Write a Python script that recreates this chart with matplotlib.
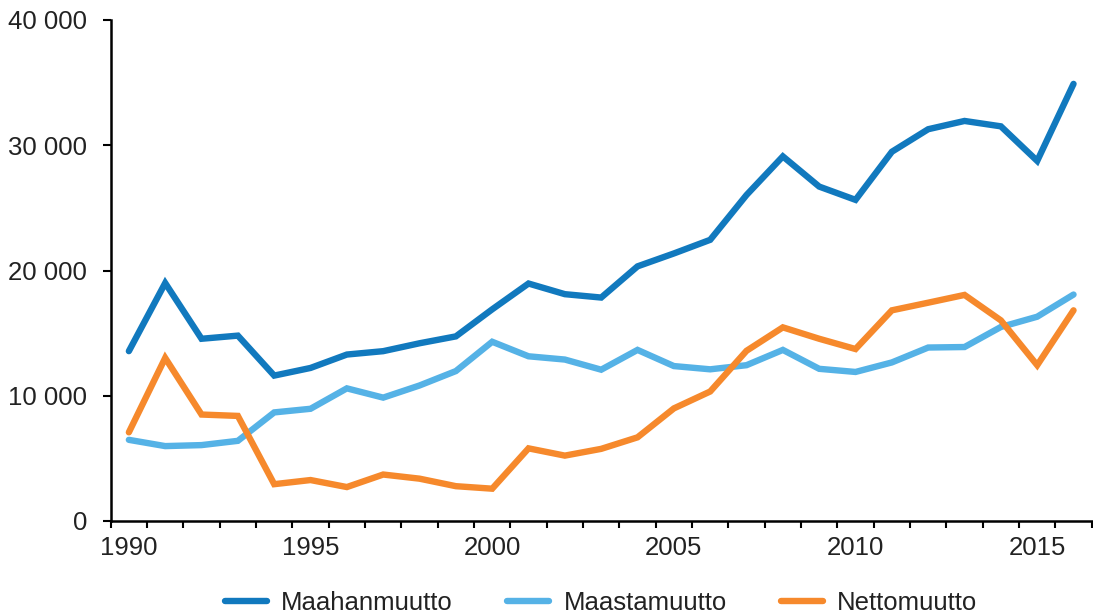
import matplotlib
matplotlib.use("Agg")
import matplotlib.pyplot as plt
import numpy as np
from matplotlib.ticker import FuncFormatter, FixedLocator

plt.rcParams['font.family'] = ['Liberation Sans', 'DejaVu Sans']

years = list(range(1990, 2017))
maahanmuutto = [13560, 19000, 14550, 14800, 11610, 12220, 13290, 13560, 14190, 14740,
                16900, 18960, 18110, 17840, 20330, 21360, 22450, 26030, 29110, 26700,
                25640, 29480, 31280, 31940, 31510, 28750, 34900]
maastamuutto = [6480, 5980, 6060, 6400, 8670, 8960, 10590, 9850, 10820, 11970,
                14310, 13150, 12890, 12080, 13660, 12370, 12110, 12440, 13660, 12150,
                11900, 12660, 13850, 13890, 15490, 16310, 18080]
nettomuutto = [7080, 13020, 8500, 8390, 2940, 3270, 2710, 3710, 3380, 2780,
               2580, 5800, 5220, 5760, 6680, 8990, 10340, 13590, 15460, 14550,
               13730, 16820, 17430, 18050, 16020, 12440, 16820]
series_names = ["Maahanmuutto", "Maastamuutto", "Nettomuutto"]
colors = ["#1179BE", "#55B2E6", "#F6892C"]
label_years = [1990, 1995, 2000, 2005, 2010, 2015]

W, H = 1093, 616
fig = plt.figure(figsize=(W / 100, H / 100), dpi=100)
ax = fig.add_axes([110.7 / W, 1 - 521 / H, (1091.7 - 110.7) / W, (521 - 20) / H])

x = np.arange(len(years))
for vals, name, c in zip([maahanmuutto, maastamuutto, nettomuutto], series_names, colors):
    ax.plot(x, vals, color=c, lw=4.6, label=name, solid_capstyle='round', solid_joinstyle='miter')

ax.set_xlim(-0.5, len(years) - 0.5)
ax.set_ylim(0, 40000)

txt = '#222222'
fs = 18.5
ax.xaxis.set_major_locator(FixedLocator(np.arange(-0.5, len(years), 1.0)))
ax.xaxis.set_major_formatter(FuncFormatter(lambda v, p: ''))
ax.xaxis.set_minor_locator(FixedLocator([years.index(y) for y in label_years]))
ax.set_xticklabels([str(y) for y in label_years], minor=True)
ax.tick_params(axis='x', which='major', length=5, width=1.5, direction='out', color='black')
ax.tick_params(axis='x', which='minor', length=0, pad=11, labelsize=fs, labelcolor=txt)

ax.set_yticks([0, 10000, 20000, 30000, 40000])
ax.yaxis.set_major_formatter(FuncFormatter(lambda v, p: f"{int(v):,}".replace(",", " ")))
ax.tick_params(axis='y', length=6, width=1.5, direction='out', pad=11, labelsize=fs, labelcolor=txt)

for s in ['top', 'right']:
    ax.spines[s].set_visible(False)
for s in ['left', 'bottom']:
    ax.spines[s].set_linewidth(1.8)
    ax.spines[s].set_color('black')

leg = fig.legend(loc='center', bbox_to_anchor=((110.7 + 1091.7) / 2 / W, 1 - 603 / H),
                 ncol=3, frameon=False, fontsize=fs, handlelength=1.65, handletextpad=0.55,
                 columnspacing=2.1, borderpad=0)
for t in leg.get_texts():
    t.set_color(txt)

fig.savefig("out.png", dpi=100)
